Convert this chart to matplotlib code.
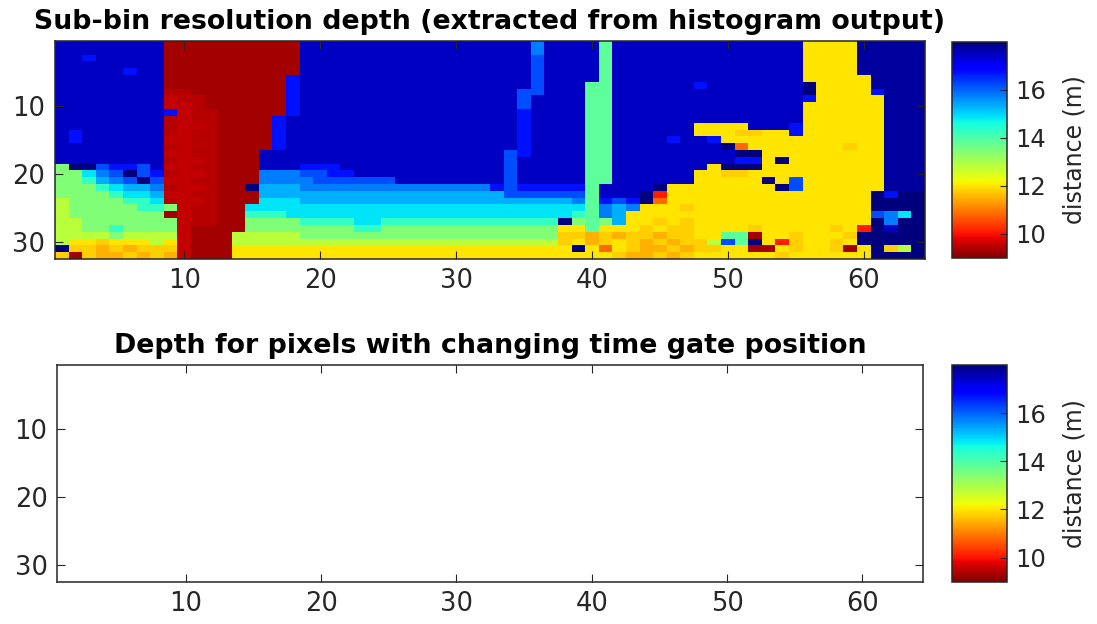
import numpy as np
import matplotlib
matplotlib.use("Agg")
import matplotlib.pyplot as plt

# depth code per pixel, row = y (1..32), column = x (1..64)
# spaces only split the 64 columns into groups of 8 for reading
depth_rows = [
    "BBBBBBBB XXXXXXXX XXBBBBBB BBBBBBBB BBBlBBBB QBBBBBBB BBBBBBBy yyyDDDDD",
    "BBBBBBBB XXXXXXXX XXBBBBBB BBBBBBBB BBBlBBBB QBBBBBBB BBBBBBBy yyyDDDDD",
    "BBbBBBBB XXXXXXXX XXBBBBBB BBBBBBBB BBBmBBBB QBBBBBBB BBBBBBBy yyyDDDDD",
    "BBBBBBBB XXXXXXXX XXBBBBBB BBBBBBBB BBBmBBBB QBBBBBBB BBBBBBBy yyyDDDDD",
    "BBBBBbBB XXXXXXXX XXBBBBBB BBBBBBBB BBBmBBBB QBBBBBBB BBBBBBBy yyyDDDDD",
    "BBBBBBBB XXXXXXXX XbBBBBBB BBBBBBBB BBBmBBBB QBBBBBBB BBBBBBBy yyyyDDDD",
    "BBBBBBBB XXXXXXXX XbBBBBBB BBBBBBBB BBBmBBBQ QBBBBBBb BBBBBBBN yyyyDDDD",
    "BBBBBBBB RRXXXXXX XbBBBBBB BBBBBBBB BBmmBBBQ QBBBBBBB BBBBBBBN yyyybDDD",
    "BBBBBBBB PRRXXXXX XbBBBBBB BBBBBBBB BBmBBBBQ QBBBBBBB BBBBBBBb yyyyyDDD",
    "BBBBBBBB PPRXXXXX XbBBBBBB BBBBBBBB BBmBBBBQ QBBBBBBB BBBBBBBy yyyyyDDD",
    "BBBBBBBB bPRRXXXX XbBBBBBB BBBBBBBB BBbBBBBQ QBBBBBBB BBBBBBBy yyyyyDDD",
    "BBBBBBBB RPRRXXXX bBBBBBBB BBBBBBBB BBbBBBBQ QBBBBBBB BBBBBBBy yyyyyDDD",
    "BBBBBBBB RPPRXXXX bBBBBBBB BBBBBBBB BBbBBBBQ QBBBBBBy yyyBBBby yyyyyDDD",
    "BbBBBBBB RPRRXXXX bBBBBBBB BBBBBBBB BBbBBBBQ QBBBBBBy yyYYyyby yyyyyDDD",
    "BbBBBBBB PPRRXXXX bBBBBBBB BBBBBBBB BBbBBBBQ QBBBBbBB byyyyyyy yyyyyDDD",
    "BBBBBBBB RPRRXXXX bBBBBBBB BBBBBBBB BBbBBBBQ QBBBBBBB BNOyyyyy yyYyyDDD",
    "BBBBBBBB PPRRXXXB BBBBBBBB BBBBBBBB BmbBBBBQ QBBBBBBB BBNNyyyy yyyyyDDD",
    "BBBBBBBB RPPRXXXB BBBBBBBB BBBBBBBB BmBBBBBQ QBBBBBBB BBbbyNyy yyyyyDDD",
    "gNNmbbmB PPRRXXXB BBbbbBBB BBBBBBBB BmBBBBBQ QBBBBBBB yNNNyyyy yyyyyDDD",
    "ggclmNmb RPPRXXXl llmmbbBB BBBBBBBB BmBBBBBQ QBBBBBBy yYYyyyyy yyyyyDDD",
    "ggqslmNm PPRRXXXl lllmmmmm mBBBBBBB BmBBBBBQ QBBBBBBy yyyyNymy yyyyyDDD",
    "gggqcssl RPPRXXNs ssllllll llllllll bmbbbbbQ BBBBNyyy yyyyyNmy yyyyyDDD",
    "ggggqccs PPRRXXXs ssssssss ssssssss smmmmmmQ BBBNryyy yyyyyyyy yyyyNbNN",
    "hggggqqc RPPRXXXc ccssssss ssssssss sssssslQ bmbNOyyy yyyyyyyy yyyyNNNN",
    "hgggggqq gPRRXXcc cccccccc cccccccc cccccccQ lslyyyYy yyyyyyyy yyyyNNNN",
    "hggggggg XPRRXXqq qccccccc cccccccc ccccccqQ lsyyyyyy yyyyyyyy yyyymlcN",
    "hhgggggg gPRRXXgg ggqqqqcc qqqqqqqq qqqqqNgQ gsyyYyYy yyyyyyyy yyyyNlNN",
    "hhggqggg gPXXXXgg ggggggqq gggggggg gggggyyQ yyyYyYYy yyyYyyyy yYyrNBNN",
    "hhhhghhh hPXXXhhh hhgggggg gggggggg gggggYYo YoYYoYYy yQQXyyYy yyYNNNNN",
    "hyyYyyyh yPXXXhhh hhhhhhhh hhhhhhhh hhhhhYyo YyYoYoYY hmQNyrYy yYyNNNNN",
    "NYYoYoYY YPXXXyyy yyyyyyyy yyyyyyyy yyyyyyNy OyYooYoY YyyXXyYy yYXyNYhN",
    "YXYooYoY oPXXXyyy yyyyyyyy yyyyyyyy yyyyyyyy yYooYoYy yyyyyYyy yyyyNNNN",
]

# distance (m) behind each code letter
code_letters = ["N", "D", "B", "b", "m", "l", "s", "c", "q", "Q",
                "g", "h", "y", "Y", "o", "O", "r", "P", "R", "X"]
code_values = [18.0, 17.75, 17.45, 16.7, 16.2, 15.75, 15.3, 14.85, 14.3, 13.85,
               13.45, 12.8, 12.0, 11.8, 11.5, 10.8, 10.1, 9.55, 9.45, 9.3]

x_ticks = [10, 20, 30, 40, 50, 60]
y_ticks = [10, 20, 30]
cbar_ticks = [10, 12, 14, 16]
clim = (9, 18)

title_top = "Sub-bin resolution depth (extracted from histogram output)"
title_bottom = "Depth for pixels with changing time gate position"
cbar_label = "distance (m)"

GRAY = (0.15, 0.15, 0.15)


def build_grid():
    lookup = dict(zip(code_letters, code_values))
    grid = np.array([[lookup[ch] for ch in row.replace(" ", "")] for row in depth_rows])
    return grid


def style_axes(ax, title):
    ax.set_xticks(x_ticks)
    ax.set_yticks(y_ticks)
    ax.tick_params(direction="in", top=True, right=True, length=6, width=0.8,
                   color=GRAY, labelcolor=GRAY, labelsize=18.5, pad=7)
    for sp in ax.spines.values():
        sp.set_color(GRAY)
        sp.set_linewidth(1.1)
    ax.set_title(title, fontsize=19.3, fontweight="bold", pad=9)


def add_colorbar(fig, im, rect):
    cax = fig.add_axes(rect)
    cb = fig.colorbar(im, cax=cax, ticks=cbar_ticks)
    cb.outline.set_edgecolor(GRAY)
    cb.outline.set_linewidth(1.1)
    cax.tick_params(direction="in", length=5, width=0.8, color=GRAY,
                    labelcolor=GRAY, labelsize=17.5, pad=6)
    cb.set_label(cbar_label, fontsize=17, color=GRAY, labelpad=12)
    return cb


def plot_depth():
    W, H = 1097, 624
    fig = plt.figure(figsize=(W / 100, H / 100), dpi=100)

    grid = build_grid()
    extent = (0.5, 64.5, 32.5, 0.5)

    ax1 = fig.add_axes([55 / W, (H - 258.7) / H, 870 / W, 217.6 / H])
    im1 = ax1.imshow(grid, cmap="jet_r", vmin=clim[0], vmax=clim[1],
                     extent=extent, aspect="auto", interpolation="nearest")
    style_axes(ax1, title_top)
    add_colorbar(fig, im1, [952 / W, (H - 257.7) / H, 55 / W, 216 / H])

    # second panel has no valid pixels
    empty = np.full(grid.shape, np.nan)
    ax2 = fig.add_axes([57.3 / W, (H - 581.7) / H, 866 / W, 216.7 / H])
    im2 = ax2.imshow(empty, cmap="jet_r", vmin=clim[0], vmax=clim[1],
                     extent=extent, aspect="auto", interpolation="nearest")
    style_axes(ax2, title_bottom)
    add_colorbar(fig, im2, [952 / W, (H - 581.7) / H, 55 / W, 216.7 / H])

    fig.savefig("out.png", dpi=100)


if __name__ == "__main__":
    plot_depth()
